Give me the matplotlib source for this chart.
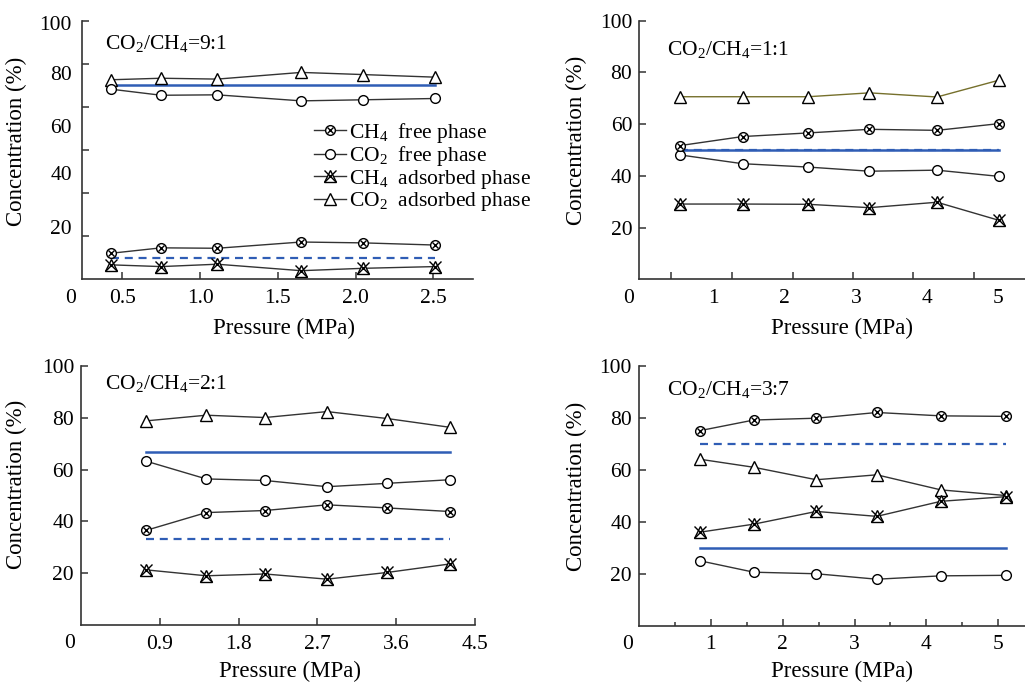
import matplotlib
matplotlib.use("Agg")
import matplotlib.pyplot as plt
from matplotlib.lines import Line2D

plt.rcParams['font.family'] = ['Liberation Serif', 'DejaVu Serif']
plt.rcParams['mathtext.fontset'] = 'custom'
plt.rcParams['mathtext.rm'] = 'Liberation Serif'
plt.rcParams['mathtext.it'] = 'Liberation Serif:italic'

# ---- data ----
x91 = [0.43, 0.75, 1.11, 1.65, 2.05, 2.51]
ch4_free_91 = [12.1, 14.6, 14.4, 17.3, 16.9, 15.9]
co2_free_91 = [88.2, 85.4, 85.6, 82.8, 83.3, 83.9]
ch4_ads_91 = [6.7, 5.9, 7.0, 4.0, 5.1, 5.9]
co2_ads_91 = [92.6, 93.3, 92.9, 96.0, 95.0, 93.8]

x11 = [0.53, 1.41, 2.33, 3.19, 4.14, 5.01]
ch4_free_11 = [51.7, 55.2, 56.6, 58.0, 57.6, 60.2]
co2_free_11 = [48.1, 44.7, 43.4, 41.8, 42.2, 39.8]
ch4_ads_11 = [29.1, 29.1, 29.0, 27.7, 29.8, 22.8]
co2_ads_11 = [70.6, 70.6, 70.6, 72.1, 70.5, 77.0]

x21 = [0.74, 1.43, 2.10, 2.81, 3.50, 4.22]
ch4_free_21 = [36.5, 43.4, 44.2, 46.4, 45.2, 43.8]
co2_free_21 = [63.3, 56.4, 55.8, 53.4, 54.7, 56.1]
ch4_ads_21 = [21.3, 19.0, 19.7, 17.7, 20.3, 23.6]
co2_ads_21 = [78.8, 81.0, 80.1, 82.4, 79.7, 76.3]

x37 = [0.85, 1.60, 2.47, 3.31, 4.20, 5.11]
ch4_free_37 = [75.1, 79.2, 79.9, 82.1, 80.8, 80.6]
co2_free_37 = [25.0, 20.6, 20.0, 17.9, 19.2, 19.4]
ch4_ads_37 = [36.0, 39.1, 44.0, 42.1, 47.9, 49.7]
co2_ads_37 = [64.1, 61.0, 56.2, 58.1, 52.3, 50.1]

# feed composition (CO2, CH4) in %
feed_91 = (90.0, 10.0)
feed_11 = (50.0, 50.0)
feed_21 = (66.7, 33.3)
feed_37 = (30.0, 70.0)

ratio_labels = ['CO$_2$/CH$_4$=9:1', 'CO$_2$/CH$_4$=1:1',
                'CO$_2$/CH$_4$=2:1', 'CO$_2$/CH$_4$=3:7']
legend_labels = ['CH$_4$  free phase', 'CO$_2$  free phase',
                 'CH$_4$  adsorbed phase', 'CO$_2$  adsorbed phase']

LINE = '#333333'
BLUE = '#2f5db5'
OLIVE = '#76702c'
FS = 15.5
W, H = 1025, 684

fig = plt.figure(figsize=(W / 100, H / 100), dpi=100)


def px_axes(l, t, r, b):
    return fig.add_axes([l / W, 1 - b / H, (r - l) / W, (b - t) / H])


def style(ax):
    for s in ['top', 'right']:
        ax.spines[s].set_visible(False)
    for s in ['left', 'bottom']:
        ax.spines[s].set_linewidth(1.2)
        ax.spines[s].set_color('#333333')
    ax.tick_params(which='both', direction='in', labelsize=FS, color='#333333',
                   width=1.1)
    ax.tick_params(axis='x', which='major', pad=7, length=5)
    ax.tick_params(axis='y', which='major', pad=5, length=5)
    ax.tick_params(which='minor', length=5)


def draw(ax, x, ch4f, co2f, ch4a, co2a, feed, co2a_color=LINE):
    x0, x1 = x[0], x[-1]
    ax.plot([x0, x1], [feed[1], feed[1]], color=BLUE, lw=1.6,
            ls=(0, (3.6, 2.6)), zorder=1)
    ax.plot([x0, x1], [feed[0], feed[0]], color=BLUE, lw=1.8, zorder=1)
    mk = dict(mfc='white', mec='black', mew=1.0)
    ax.plot(x, co2a, color=co2a_color, lw=1.0, marker='^', ms=9, zorder=3, **mk)
    ax.plot(x, co2f, color=LINE, lw=1.0, marker='o', ms=7, zorder=3, **mk)
    ax.plot(x, ch4f, color=LINE, lw=1.0, marker='o', ms=7, zorder=3, **mk)
    ax.plot(x, ch4f, ls='none', marker='x', ms=5, mec='black', mew=1.0, zorder=4)
    ax.plot(x, ch4a, color=LINE, lw=1.0, marker='^', ms=9, zorder=3, **mk)
    ax.plot(x, ch4a, ls='none', marker='x', ms=9, mec='black', mew=1.0, zorder=4)


def finish(ax, ylab_x, ylab_y, xlab_x, xlab_top, note_xy, note):
    ax.set_xlabel('Pressure (MPa)', fontsize=16.5)
    ax.xaxis.set_label_coords(xlab_x / W, 1 - xlab_top / H, transform=fig.transFigure)
    ax.set_ylabel('Concentration (%)', fontsize=16.5)
    ax.yaxis.set_label_coords(ylab_x / W, 1 - ylab_y / H, transform=fig.transFigure)
    ax.annotate('0', xy=(0, 0), xycoords='axes fraction', xytext=(-11, -19),
                textcoords='offset pixels', ha='center', va='center', fontsize=FS)
    fig.text(note_xy[0] / W, 1 - note_xy[1] / H, note, fontsize=FS,
             ha='left', va='center')


# ---- panel 9:1 ----
ax1 = px_axes(81.7, 20.7, 473.3, 279.3)
style(ax1)
draw(ax1, x91, ch4_free_91, co2_free_91, ch4_ads_91, co2_ads_91, feed_91)
ax1.set_xlim(0.239, 2.757)
ax1.set_ylim(0, 120)
ax1.set_xticks([0.5, 1.0, 1.5, 2.0, 2.5], ['0.5', '1.0', '1.5', '2.0', '2.5'])
ax1.set_yticks([24.4, 49.2, 71.1, 95.9, 118.9], ['20', '40', '60', '80', '100'])
ax1.set_yticks([20, 40, 60, 80, 100, 120], minor=True)
ax1.tick_params(axis='y', which='major', length=0, pad=7)
finish(ax1, 27, 141, 284, 318, (105, 43), ratio_labels[0])

mk = dict(mfc='white', mec='black', mew=1.0, color=LINE, lw=1.0)
h1 = (Line2D([], [], marker='o', ms=7, **mk),
      Line2D([], [], ls='none', marker='x', ms=5, mec='black', mew=1.0))
h2 = Line2D([], [], marker='o', ms=7, **mk)
h3 = (Line2D([], [], marker='^', ms=9, **mk),
      Line2D([], [], ls='none', marker='x', ms=9, mec='black', mew=1.0))
h4 = Line2D([], [], marker='^', ms=9, **mk)
fig.legend([h1, h2, h3, h4], legend_labels, loc='upper left',
           bbox_to_anchor=(303 / W, 1 - 110 / H), bbox_transform=fig.transFigure,
           frameon=False, fontsize=FS, borderpad=0, labelspacing=-0.02,
           handlelength=1.5, handletextpad=0.15)

# ---- panel 1:1 ----
ax2 = px_axes(639.3, 20.7, 1025, 279.3)
style(ax2)
draw(ax2, x11, ch4_free_11, co2_free_11, ch4_ads_11, co2_ads_11, feed_11,
     co2a_color=OLIVE)
ax2.set_xlim(-0.04, 5.375)
ax2.set_ylim(0, 100)
ax2.set_xticks([1, 2, 3, 4, 5])
ax2.set_xticks([0.406, 1.267, 2.114, 2.965, 3.807, 4.659], minor=True)
ax2.tick_params(axis='x', which='major', length=0)
ax2.set_yticks([20, 40, 60, 80, 100])
finish(ax2, 587, 140, 842, 318, (667, 50), ratio_labels[1])

# ---- panel 2:1 ----
ax3 = px_axes(81, 366, 475, 625)
style(ax3)
draw(ax3, x21, ch4_free_21, co2_free_21, ch4_ads_21, co2_ads_21, feed_21)
ax3.set_xlim(0, 4.5)
ax3.set_ylim(0, 100)
ax3.set_xticks([0.9, 1.8, 2.7, 3.6, 4.5], ['0.9', '1.8', '2.7', '3.6', '4.5'])
ax3.set_yticks([20, 40, 60, 80, 100])
finish(ax3, 27, 484, 290, 661, (105, 383), ratio_labels[2])

# ---- panel 3:7 ----
ax4 = px_axes(638.7, 366, 1025, 625.7)
style(ax4)
draw(ax4, x37, ch4_free_37, co2_free_37, ch4_ads_37, co2_ads_37, feed_37)
ax4.set_xlim(0, 5.37)
ax4.set_ylim(0, 100)
ax4.set_xticks([1, 2, 3, 4, 5])
ax4.set_xticks([0.5, 1.5, 2.5, 3.5, 4.5], minor=True)
ax4.tick_params(axis='x', which='minor', length=3)
ax4.set_yticks([20, 40, 60, 80, 100])
finish(ax4, 587, 486, 842, 661, (667, 390), ratio_labels[3])

fig.savefig('out.png', dpi=100)
